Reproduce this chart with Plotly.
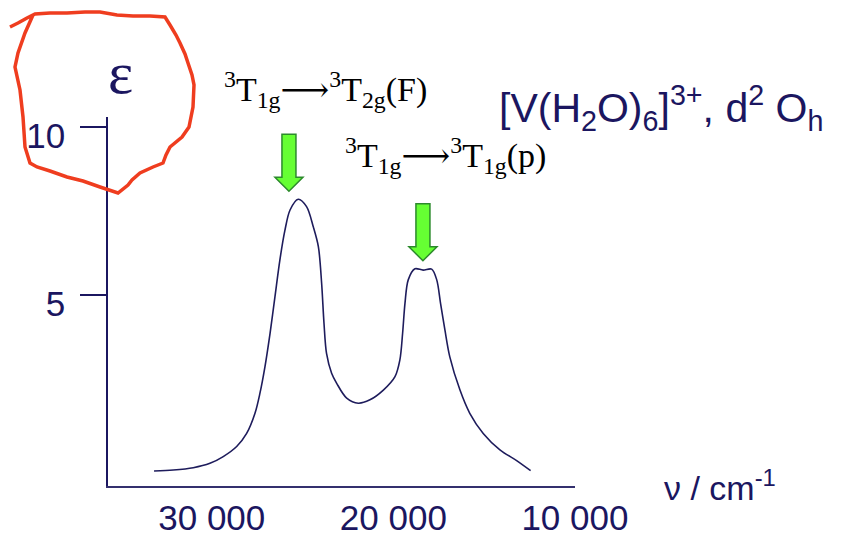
import plotly.graph_objects as go

# Absorption spectrum of [V(H2O)6]3+ (molar absorptivity vs wavenumber)
wavenumber = [33180, 32120, 31020, 30100, 29370, 28630, 28080, 27620, 27350, 27070,
              26790, 26520, 26250, 25970, 25690, 25240, 24780, 24410, 24130, 23950,
              23820, 23680, 23400, 23120, 22570, 21930, 21290, 20550, 19910, 19640,
              19490, 19360, 19180, 18810, 18360, 17890, 17610, 17400, 17160, 16890,
              16330, 15790, 15050, 14130, 13210, 12440]
epsilon = [-0.24, -0.21, -0.14, -0.01, 0.19, 0.49, 0.88, 1.48, 2.07, 2.87,
           3.86, 4.95, 6.04, 6.93, 7.53, 7.85, 7.63, 7.03, 6.44, 5.35,
           4.16, 3.26, 2.67, 2.37, 1.93, 1.78, 1.88, 2.17, 2.57, 3.07,
           3.86, 4.75, 5.45, 5.78, 5.74, 5.77, 5.45, 4.75, 3.96, 3.16,
           2.17, 1.48, 0.88, 0.39, 0.07, -0.23]

x_tick_values = [30000, 20000, 10000]
x_tick_labels = ["30 000", "20 000", "10 000"]
y_tick_values = [5, 10]
y_tick_labels = ["5", "10"]

# band positions marked with arrows, and their assignments
band_nu = [25750, 18370]
ARROW = '<span style="font-family:DejaVu Serif">\u27f6</span>'
band_labels = [f"<sup>3</sup>T<sub>1g</sub>{ARROW}<sup>3</sup>T<sub>2g</sub>(F)",
               f"<sup>3</sup>T<sub>1g</sub>{ARROW}<sup>3</sup>T<sub>1g</sub>(p)"]

NAVY = "#1b1660"
W, H = 848, 538
L, R, T, B = 108, 273, 117, 52
PW, PH = W - L - R, H - T - B


def paper(xp, yp):
    """Figure pixel position -> paper coordinates."""
    return (xp - L) / PW, (H - B - yp) / PH


fig = go.Figure()
fig.add_trace(go.Scatter(
    x=wavenumber, y=epsilon, mode="lines",
    line=dict(color="#1e1c5c", width=1.6, shape="spline", smoothing=0.9),
    hoverinfo="skip"))

fig.update_layout(
    width=W, height=H,
    margin=dict(l=L, r=R, t=T, b=B, pad=0, autoexpand=False),
    paper_bgcolor="white", plot_bgcolor="white",
    showlegend=False,
    xaxis=dict(range=[35716, 9995], autorange=False, automargin=False,
               showgrid=False, zeroline=False,
               showline=True, linecolor="#34306e", linewidth=2,
               tickmode="array", tickvals=x_tick_values, ticktext=x_tick_labels,
               ticks="", tickfont=dict(family="Liberation Sans", size=35, color=NAVY),
               ticklabelstandoff=0),
    yaxis=dict(range=[-0.685, 10.298], autorange=False, automargin=False,
               showgrid=False, zeroline=False,
               showline=True, linecolor=NAVY, linewidth=1.5,
               tickmode="array", tickvals=y_tick_values, ticktext=y_tick_labels,
               ticks="outside", ticklen=26, tickwidth=1.5, tickcolor=NAVY,
               tickfont=dict(family="Liberation Sans", size=35, color=NAVY),
               ticklabelstandoff=8, ticklabelshift=9),
)

annotations = []


def note(text, xp, yp, size, color, family, xanchor="left"):
    x, y = paper(xp, yp)
    annotations.append(dict(text=text, x=x, y=y, xref="paper", yref="paper",
                            xanchor=xanchor, yanchor="middle", showarrow=False,
                            font=dict(family=family, size=size, color=color)))


note("\u03b5", 120, 73, 60, NAVY, "Liberation Serif", xanchor="center")
note(band_labels[0], 222, 90, 34, "black", "Liberation Serif")
note(band_labels[1], 343, 155, 34, "black", "Liberation Serif")
note("[V(H<sub>2</sub>O)<sub>6</sub>]<sup>3+</sup>, d<sup>2</sup> O<sub>h</sub>",
     497, 108, 41, NAVY, "Liberation Sans")
note("\u03bd / cm<sup>-1</sup>", 662, 485, 34, NAVY, "Liberation Sans")
fig.update_layout(annotations=annotations)

# green arrows pointing down at each band maximum
gap, head, shaft_half, head_half, length = 8, 14, 7, 14, 57
arrow_path = (f"M 0,{gap} L {-head_half},{gap + head} L {-shaft_half},{gap + head} "
              f"L {-shaft_half},{gap + length} L {shaft_half},{gap + length} "
              f"L {shaft_half},{gap + head} L {head_half},{gap + head} Z")
for nu in band_nu:
    i = min(range(len(wavenumber)), key=lambda k: abs(wavenumber[k] - nu))
    lo, hi = max(0, i - 3), min(len(epsilon), i + 4)
    peak = max(epsilon[lo:hi])
    fig.add_shape(type="path", path=arrow_path,
                  xref="x", yref="y", xsizemode="pixel", ysizemode="pixel",
                  xanchor=nu, yanchor=peak,
                  fillcolor="#66ff33", line=dict(color="#2c8a2c", width=1.5))

# hand-drawn red highlight around the epsilon label
outline = [(10, 27), (18, 23), (27, 18), (35, 14), (50, 13), (67, 13), (85, 12), (100, 12),
           (117, 15), (133, 16), (150, 16), (165, 17), (170, 25), (176, 35), (180, 43),
           (185, 54), (188, 63), (192, 75), (194, 85), (193, 107), (189, 127), (182, 137),
           (170, 147), (166, 155), (163, 163), (153, 167), (140, 173), (132, 180),
           (128, 185), (118, 193), (100, 187), (83, 181), (67, 177), (50, 171), (37, 167),
           (30, 163), (25, 147), (23, 117), (20, 90), (15, 67), (18, 53), (25, 33), (33, 15)]
outline_path = "M " + " L ".join(f"{xp - L},{T - yp}" for xp, yp in outline)
fig.add_shape(type="path", path=outline_path,
              xref="paper", yref="paper", xsizemode="pixel", ysizemode="pixel",
              xanchor=0, yanchor=1,
              line=dict(color="#ef3d1f", width=3.5))

fig.write_html("out.html")
